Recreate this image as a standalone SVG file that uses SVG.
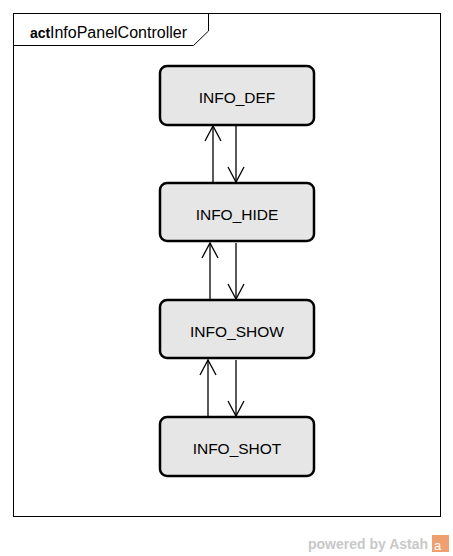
<svg xmlns="http://www.w3.org/2000/svg" width="453" height="556" viewBox="0 0 453 556">
<defs>
<style>
.node rect{fill:#e6e6e6;stroke:#000;stroke-width:2.5}
.node text{font-family:"Liberation Sans",Arial,sans-serif;font-size:15.5px;text-anchor:middle;fill:#000}
.edge{stroke:#000;stroke-width:1.3;fill:none}
.head{stroke:#000;stroke-width:1.3;fill:none}
</style>
</defs>
<rect width="453" height="556" fill="#fff"/>
<g id="frame">
<rect x="13.5" y="13.5" width="427" height="503" fill="none" stroke="#000" stroke-width="1"/>
<path d="M13.5 45.5 H193.5 L208.5 31 V13.5" fill="none" stroke="#000" stroke-width="1"/>
<text y="37.5" font-family="Liberation Sans,Arial,sans-serif"><tspan x="30" font-size="14" font-weight="bold">act</tspan><tspan x="50" font-size="16">InfoPanelController</tspan></text>
</g>
<g id="INFO_DEF" class="node"><rect x="160" y="66" width="154" height="59" rx="7"/><text x="237" y="103">INFO_DEF</text></g>
<g id="INFO_HIDE" class="node"><rect x="160" y="183" width="154" height="58" rx="7"/><text x="237" y="220">INFO_HIDE</text></g>
<g id="INFO_SHOW" class="node"><rect x="160" y="300" width="154" height="58" rx="7"/><text x="237" y="337">INFO_SHOW</text></g>
<g id="INFO_SHOT" class="node"><rect x="160" y="417" width="154" height="59" rx="7"/><text x="237" y="454">INFO_SHOT</text></g>
<g id="connectors">
<path class="edge" d="M213 183 V126"/><path class="head" d="M205 141 L213 126 L221 141"/>
<path class="edge" d="M236 126 V182"/><path class="head" d="M228 167 L236 182 L244 167"/>
<path class="edge" d="M210 300 V243"/><path class="head" d="M202 258 L210 243 L218 258"/>
<path class="edge" d="M236 243 V299"/><path class="head" d="M228 284 L236 299 L244 284"/>
<path class="edge" d="M208 417 V360"/><path class="head" d="M200 375 L208 360 L216 375"/>
<path class="edge" d="M236 360 V416"/><path class="head" d="M228 401 L236 416 L244 401"/>
</g>
<g id="watermark">
<text x="308" y="549" font-family="Liberation Sans,Arial,sans-serif" font-size="14" font-weight="bold" fill="#c8c8c8">powered by Astah</text>
<rect x="432" y="535" width="17" height="17" fill="#f0a070"/>
<text x="434" y="550" font-family="Liberation Sans,Arial,sans-serif" font-size="13" fill="#fff">a</text>
</g>
</svg>
